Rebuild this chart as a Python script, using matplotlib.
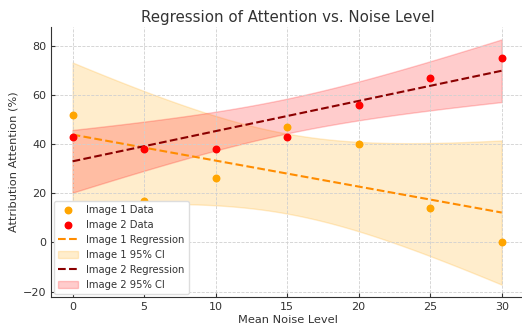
import numpy as np
import matplotlib
matplotlib.use("Agg")
import matplotlib.pyplot as plt

# noise levels and attention values
noise = np.array([0, 5, 10, 15, 20, 25, 30])
image1 = np.array([52, 17, 26, 47, 40, 14, 0])
image2 = np.array([43, 38, 38, 43, 56, 67, 75])

T_95 = 2.5706  # t critical value, 5 dof


def fit_with_ci(x, y, xs):
    slope, intercept = np.polyfit(x, y, 1)
    resid = y - (slope * x + intercept)
    s = np.sqrt(np.sum(resid ** 2) / (len(x) - 2))
    se = s * np.sqrt(1 / len(x) + (xs - x.mean()) ** 2 / np.sum((x - x.mean()) ** 2))
    fit = slope * xs + intercept
    return fit, fit - T_95 * se, fit + T_95 * se


xs = np.linspace(noise.min(), noise.max(), 100)
fit1, lo1, hi1 = fit_with_ci(noise, image1, xs)
fit2, lo2, hi2 = fit_with_ci(noise, image2, xs)

plt.rcParams['text.color'] = '#333333'
plt.rcParams['axes.labelcolor'] = '#333333'
plt.rcParams['xtick.color'] = '#333333'
plt.rcParams['ytick.color'] = '#333333'

fig = plt.figure(figsize=(5.22, 3.27), dpi=100)
ax = fig.add_axes([0.098, 0.092, 0.907, 0.825])

ax.scatter(noise, image1, color='orange', s=22, label='Image 1 Data', zorder=3)
ax.scatter(noise, image2, color='red', s=22, label='Image 2 Data', zorder=3)
ax.plot(xs, fit1, '--', color='darkorange', lw=1.5, label='Image 1 Regression')
ax.fill_between(xs, lo1, hi1, color='orange', alpha=0.2, label='Image 1 95% CI')
ax.plot(xs, fit2, '--', color='darkred', lw=1.5, label='Image 2 Regression')
ax.fill_between(xs, lo2, hi2, color='red', alpha=0.2, label='Image 2 95% CI')

ax.set_xlim(-1.5, 31.6)
ax.set_title('Regression of Attention vs. Noise Level', fontsize=10.8, pad=4)
ax.set_xlabel('Mean Noise Level', fontsize=8.2, labelpad=2)
ax.set_ylabel('Attribution Attention (%)', fontsize=8.2, labelpad=3)
ax.tick_params(direction='in', labelsize=8, length=3)
ax.grid(True, linestyle='--', color='#d0d0d0', linewidth=0.6)
for side in ['top', 'right']:
    ax.spines[side].set_visible(False)
for side in ['left', 'bottom']:
    ax.spines[side].set_color('#333333')
ax.legend(loc='lower left', fontsize=7.2, framealpha=1.0, edgecolor='#dddddd',
          borderaxespad=0.3)

fig.savefig('out.png', dpi=100)
